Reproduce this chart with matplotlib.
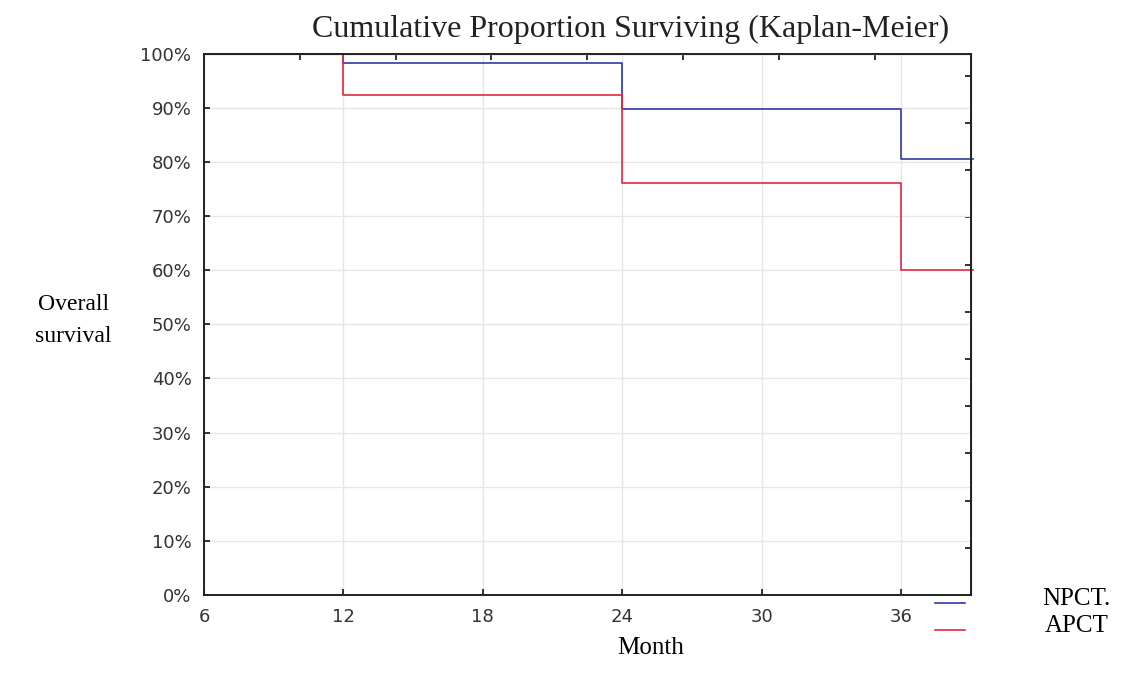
import matplotlib.pyplot as plt
from matplotlib.lines import Line2D
from matplotlib.ticker import FixedLocator, FuncFormatter

# Kaplan-Meier steps (month, survival %)
months = [6, 12, 24, 36, 39.1]
npct = [100, 98.2, 89.8, 80.6, 80.6]
apct = [100, 92.3, 76.1, 60.0, 60.0]

x_ticks = [6, 12, 18, 24, 30, 36]
y_ticks = [0, 10, 20, 30, 40, 50, 60, 70, 80, 90, 100]

BLUE = '#2f3aa8'
RED = '#e5283e'

fig = plt.figure(figsize=(11.46, 6.75), dpi=100)
ax = fig.add_axes([0.178, 0.1185, 0.669, 0.802])

# zorder below the spines so the 100% run hides under the top frame
ax.step(months, npct, where='post', color=BLUE, lw=1.2, clip_on=False, zorder=2)
ax.step(months, apct, where='post', color=RED, lw=1.2, clip_on=False, zorder=2)

ax.set_xlim(6, 39)
ax.set_ylim(0, 100)
ax.set_xticks(x_ticks)
ax.set_yticks(y_ticks)
ax.yaxis.set_major_formatter(FuncFormatter(lambda v, p: '%d%%' % v))
ax.grid(True, color='#e6e6e6', lw=1.0)
ax.set_axisbelow(True)

for s in ax.spines.values():
    s.set_linewidth(1.4)
    s.set_color('#222222')
    s.set_zorder(3)

ax.tick_params(axis='both', direction='in', length=4, width=1.3, colors='#222222',
               labelcolor='#333333', labelsize=13)
ax.tick_params(axis='y', pad=9)
ax.tick_params(axis='x', pad=9)

# secondary scales on top and right (ticks only)
axt = ax.secondary_xaxis('top')
axt.xaxis.set_major_locator(FixedLocator([6 + k * 4.125 for k in range(1, 8)]))
axt.tick_params(direction='in', length=4, width=1.3, colors='#222222', labeltop=False)
axr = ax.secondary_yaxis('right')
axr.yaxis.set_major_locator(FixedLocator([k * 8.72 for k in range(1, 12)]))
axr.tick_params(direction='in', length=4, width=1.3, colors='#222222', labelright=False)

fig.text(0.55, 0.956, 'Cumulative Proportion Surviving (Kaplan-Meier)',
         family='Liberation Serif', fontsize=23, ha='center', va='center', color='#222222')

fig.text(0.064, 0.525, 'Overall\nsurvival', family='Liberation Serif', fontsize=17,
         ha='center', va='center', linespacing=1.7)
fig.text(0.568, 0.040, 'Month', family='Liberation Serif', fontsize=18, ha='center', va='center')

# legend
fig.add_artist(Line2D([0.816, 0.842], [0.107, 0.107], color=BLUE, lw=1.2))
fig.add_artist(Line2D([0.816, 0.842], [0.067, 0.067], color=RED, lw=1.2))
fig.text(0.969, 0.113, 'NPCT.', family='Liberation Serif', fontsize=18, ha='right', va='center')
fig.text(0.967, 0.072, 'APCT', family='Liberation Serif', fontsize=18, ha='right', va='center')

fig.savefig('out.png', dpi=100)
